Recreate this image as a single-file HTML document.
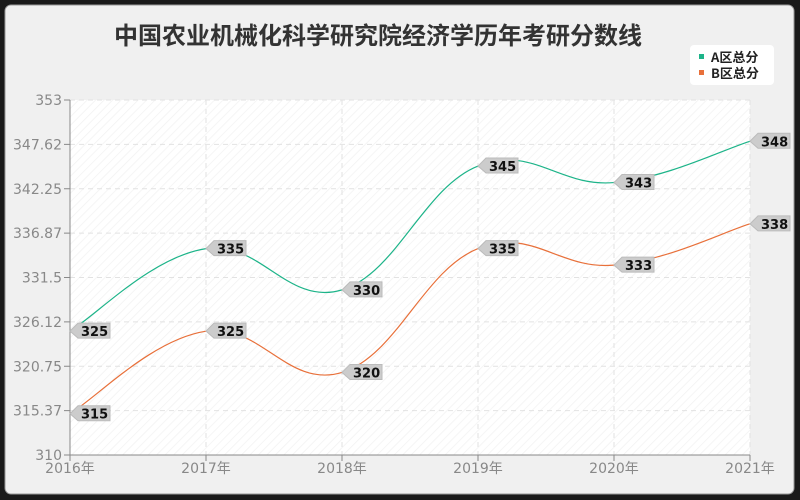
<!DOCTYPE html>
<html><head><meta charset="utf-8"><style>
html,body{margin:0;padding:0;background:#000;}
#c{position:absolute;left:0;top:0;width:800px;height:500px;}
</style></head><body>
<svg id="c" width="800" height="500" xmlns="http://www.w3.org/2000/svg" font-family="'Liberation Sans','Noto Sans CJK SC',sans-serif">
<defs>
<pattern id="h" width="6" height="6" patternUnits="userSpaceOnUse" patternTransform="rotate(45)">
<rect width="6" height="6" fill="#fff"/><line x1="0" y1="0" x2="0" y2="6" stroke="#f2f2f2" stroke-width="1.5"/>
</pattern>
</defs>
<rect x="0" y="0" width="800" height="500" fill="#1a1a1a"/>
<rect x="5" y="5" width="789" height="489" rx="6" fill="#f0f0f0" stroke="#999" stroke-width="1"/>
<text x="378" y="44" text-anchor="middle" font-size="24" font-weight="bold" fill="#333" font-family="'Noto Sans CJK SC',sans-serif">中国农业机械化科学研究院经济学历年考研分数线</text>
<rect x="690" y="45" width="84" height="40" rx="4" fill="#fff"/>
<rect x="699" y="54" width="5" height="5" fill="#1db489"/>
<text x="711" y="62" font-size="13" font-weight="bold" fill="#222" font-family="'Noto Sans CJK SC',sans-serif">A区总分</text>
<rect x="699" y="70" width="5" height="5" fill="#e8703a"/>
<text x="711" y="78" font-size="13" font-weight="bold" fill="#222" font-family="'Noto Sans CJK SC',sans-serif">B区总分</text>
<rect x="70" y="100" width="680" height="355" fill="url(#h)"/>
<g id="grid" stroke="#e2e2e2" stroke-dasharray="5,4" stroke-width="1"></g>
<g id="ax" font-size="14" fill="#888" font-family="'DejaVu Sans',sans-serif"></g>
<line x1="70" y1="100" x2="70" y2="455" stroke="#888"/>
<line x1="70" y1="455" x2="750" y2="455" stroke="#888"/>
<path id="pA" fill="none" stroke="#1db489" stroke-width="1.2"/>
<path id="pB" fill="none" stroke="#e8703a" stroke-width="1.2"/>
<g id="lbl"></g>
</svg>
<script>
var NS="http://www.w3.org/2000/svg";
function Y(v){return 455-(v-310)*355/43;}
var xs=[70,206,342,478,614,750],yrs=[2016,2017,2018,2019,2020,2021];
var A=[325,335,330,345,343,348],B=[315,325,320,335,333,338];
var g=document.getElementById('grid'),ax=document.getElementById('ax');
function el(t,a,p,txt){var e=document.createElementNS(NS,t);for(var k in a)e.setAttribute(k,a[k]);if(txt!=null)e.textContent=txt;p.appendChild(e);return e;}
var ticks=["353","347.62","342.25","336.87","331.5","326.12","320.75","315.37","310"];
for(var i=0;i<9;i++){var y=100+i*355/8;
 if(i<8)el('line',{x1:70,x2:750,y1:y,y2:y},g);
 el('line',{x1:64,x2:70,y1:y,y2:y,stroke:'#888'},ax);
 el('text',{x:62,y:y+5,'text-anchor':'end'},ax,ticks[i]);}
for(var i=0;i<6;i++){ if(i>0)el('line',{x1:xs[i],x2:xs[i],y1:100,y2:455},g);
 el('line',{x1:xs[i],x2:xs[i],y1:455,y2:461,stroke:'#888'},ax);
 el('text',{x:xs[i],y:473,'text-anchor':'middle','font-family':"'DejaVu Sans','Noto Sans CJK SC',sans-serif"},ax,yrs[i]+'年');}
function path(d){var p=xs.map(function(x,i){return [x,Y(d[i])];});
 var s="M"+p[0][0]+","+p[0][1];
 for(var i=0;i<p.length-1;i++){var p0=p[Math.max(i-1,0)],p1=p[i],p2=p[i+1],p3=p[Math.min(i+2,p.length-1)];
  var k=0.2;
  var c1=[p1[0]+(p2[0]-p0[0])*k,p1[1]+(p2[1]-p0[1])*k],c2=[p2[0]-(p3[0]-p1[0])*k,p2[1]-(p3[1]-p1[1])*k];
  s+=" C"+c1+" "+c2+" "+p2;}
 return s;}
document.getElementById('pA').setAttribute('d',path(A));
document.getElementById('pB').setAttribute('d',path(B));
var L=document.getElementById('lbl');
[A,B].forEach(function(d){d.forEach(function(v,i){var x=xs[i],y=Y(v);
 el('path',{d:"M"+x+","+y+" l8,-8 h32 v15 h-32 z",fill:"#ccc",stroke:"#bbb"},L);
 el('text',{x:x+11,y:y+5,'font-size':13,'font-weight':'bold',fill:'#111','font-family':"'DejaVu Sans',sans-serif"},L,v);});});
</script>
</body></html>
